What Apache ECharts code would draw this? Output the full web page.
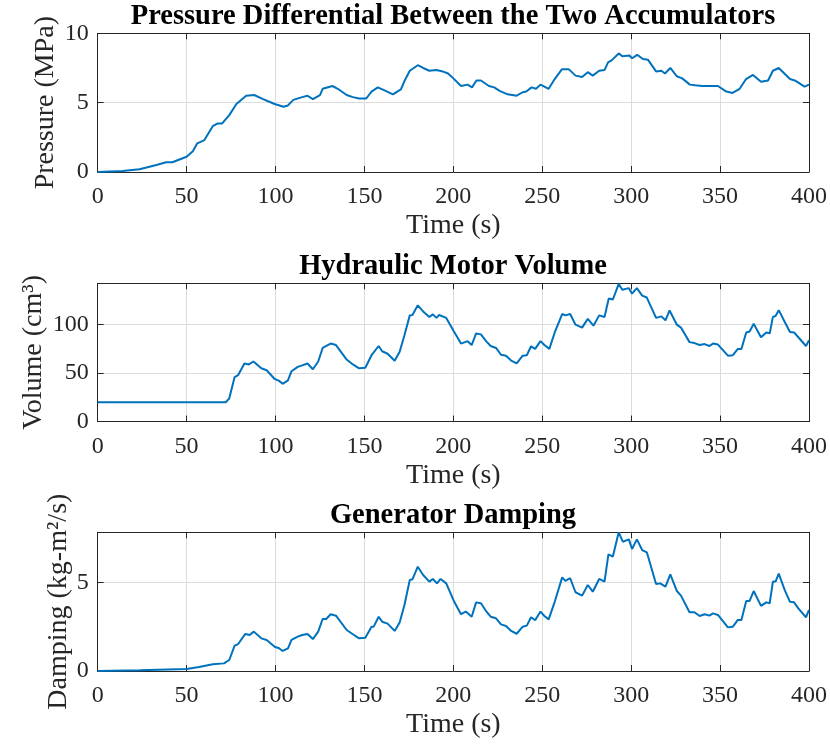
<!DOCTYPE html>
<html><head><meta charset="utf-8">
<script src="https://cdn.jsdelivr.net/npm/echarts@6/dist/echarts.min.js"></script>
<style>html,body{margin:0;padding:0;background:#fff}#c{width:830px;height:745px}</style>
</head><body><div id="c"></div>
<script>
var titles = ['Pressure Differential Between the Two Accumulators', 'Hydraulic Motor Volume', 'Generator Damping'];
var yNames = ['Pressure (MPa)', 'Volume (cm\u00B3)', 'Damping (kg-m\u00B2/s)'];
var xName = 'Time (s)';
var xTicks = [0, 50, 100, 150, 200, 250, 300, 350, 400];

var tPressure = [0,14,23.5,33,38.5,42,46,50,53.5,56,60,64.7,67.5,70,74,78,83.5,88,93,99.5,104.5,107,110,115,118,121,125,126.5,132,135,140,143.5,147,151,154,157.5,161,166,170.5,172.5,175.5,180,183,186.5,190.5,194,197,200,204.3,208,210.5,213,215.5,220,223,226,230.5,235.6,239,241,244,246.5,249,253.6,257,258,261,265,268.7,272.4,275.6,278.4,282,285,287,289,293,295,299,300.5,303.4,306.6,309.4,314,317,319,322,325.7,328.7,333,336,340,344,348.8,353.5,357,361,364.6,368.5,373,377,379.7,383,389.3,392,397.5,400];
var pressure = [0,0.07,0.2,0.5,0.7,0.7,0.9,1.1,1.5,2.07,2.3,3.3,3.5,3.5,4.1,4.9,5.5,5.55,5.26,4.9,4.7,4.8,5.2,5.4,5.5,5.25,5.55,6.0,6.2,6.0,5.55,5.4,5.3,5.3,5.8,6.1,5.9,5.6,5.95,6.56,7.3,7.7,7.5,7.3,7.35,7.25,7.1,6.75,6.2,6.3,6.1,6.6,6.6,6.2,6.1,5.85,5.6,5.5,5.75,5.8,6.1,6.0,6.3,6.0,6.7,6.75,7.4,7.4,6.95,6.85,7.2,6.95,7.3,7.35,7.9,8.05,8.55,8.35,8.4,8.2,8.45,8.15,8.1,7.25,7.3,7.1,7.5,6.9,6.75,6.3,6.25,6.2,6.2,6.2,5.8,5.7,6.0,6.7,7.0,6.5,6.6,7.3,7.5,6.7,6.6,6.15,6.3];

var tVolume = [0,72,74,77,79,82.5,85,87.6,92,95,99.5,102,104,107,109,112.5,115,118,121,124,126.5,131,134,140,143.5,147,150.5,154,158,160,163,167,169.8,172.5,175.5,177,180,183,186.5,188.5,190.5,192,196,200.5,204.3,208,210.3,212.8,215.5,218.4,221,224,226.8,229.6,232.5,235.6,239,241.3,243.7,246,249,251.2,254,257,258,261.2,263,265.7,268.7,272.4,275.6,278.8,282,285,287.4,289.7,293,295,298.7,300.5,303.2,306.2,308.8,314,317,319.3,321.6,325.7,328,332.8,335.6,338.5,341.3,344,346,348.8,354.4,357.2,360,362,364.7,366.6,368.9,373,376,377.9,379.7,381.2,383,386.3,389.3,391.6,394,398.3,400];
var volume = [20,20,24,46,48,60,59,62,55,53,44,42,39,42.5,52,56.5,58,60,54,62,76,80.5,79,64,59,55,55.5,68.5,78,72.6,70,62.7,72,89,109.6,110,120,113.7,108,110.6,107,110,107,92.5,80.5,83,79,91,90,83,78,76,69,68,63,60,68,68.5,77.7,75,83,79,75,92,92.5,111,109.6,111,100,97,106,99,109.6,108,127,126,142,136,137.7,132,137.7,130,128,107,108.6,104.5,114.7,100,97,82,81,79,80,78,80.5,79.5,68,68.5,75,75,92,93,101,87,92,91,108,109,115,103,92.5,92,87,78,84];

var tDamping = [0,23.5,50,57,64.7,71,74,77,79,83,85.4,87.8,92,95,99.5,102,104,107,109,112.5,115,118,121,124,126.5,128.5,131,134,140,143.5,147,150.5,154,155.2,158,160,163,167,169.8,172.5,175.5,177,180,183,186.5,188.5,190.8,192.8,196,200.5,204.3,207,210.3,212.8,215.5,218.4,221,224,226.8,229.6,232.5,235.6,239,241.3,243.7,246,249,251.2,253.6,257,258,261.2,263,265.7,268.7,272.4,275.6,278.4,282,285,287.2,289.7,293,295.3,298.7,300.5,303.2,306.2,308.8,314,316.3,319.3,322,325.7,328,332.8,335.6,338.5,341.3,344,346,348.8,354.4,357.2,360,362,364.7,366.6,368.9,373,376,377.9,379.7,381.2,383,386.3,389.3,391.6,394,398.3,400];
var damping = [0,0.04,0.11,0.22,0.38,0.43,0.62,1.43,1.52,2.09,2.03,2.22,1.84,1.75,1.37,1.28,1.13,1.28,1.75,1.94,2.03,2.09,1.8,2.22,2.93,2.93,3.2,3.12,2.31,2.07,1.84,1.88,2.5,2.5,3.06,2.78,2.67,2.26,2.73,3.72,5.13,5.17,5.88,5.41,5.04,5.19,4.94,5.19,4.94,3.9,3.2,3.35,3.06,3.87,3.82,3.38,3.06,2.97,2.63,2.54,2.26,2.1,2.5,2.56,3.03,2.86,3.35,3.1,2.91,3.9,3.95,5.28,5.08,5.23,4.44,4.25,4.85,4.47,5.19,5.04,6.58,6.45,7.82,7.29,7.42,6.88,7.42,6.82,6.69,4.9,4.94,4.76,5.45,4.51,4.25,3.31,3.31,3.1,3.2,3.12,3.25,3.16,2.46,2.5,2.88,2.88,3.95,3.95,4.51,3.67,3.87,3.82,5.04,5.04,5.49,4.57,3.9,3.87,3.53,3.03,3.44];

var yMax = [10, 142.7, 7.82];
var yInterval = [5, 50, 5];

var FONT = 'Liberation Serif, Times New Roman, serif';
var AX = '#262626';
var GRIDC = '#dcdcdc';

function pairs(t, v){ var o=[]; for (var i=0;i<t.length;i++) o.push([t[i], v[i]]); return o; }
var seriesData = [pairs(tPressure, pressure), pairs(tVolume, volume), pairs(tDamping, damping)];

var tops = [33.3, 283.3, 532.3];
var heights = [138.7, 138.3, 138.7];
var titleY = [2, 252, 501];
var yNameGap = [38, 50, 25];

var grids=[], xAxes=[], yAxes=[], series=[], titleArr=[];
for (var k=0;k<3;k++){
  grids.push({left:97.7, top:tops[k], width:711.3, height:heights[k], outerBoundsMode:'none', containLabel:false});
  titleArr.push({text:titles[k], left:453, textAlign:'center', top:titleY[k], padding:0,
    textStyle:{fontFamily:FONT, fontWeight:'bold', fontSize:28.5, color:'#000'}});
  xAxes.push({type:'value', gridIndex:k, position:'bottom', min:0, max:400, interval:50,
    name:xName, nameLocation:'middle', nameGap:40, nameMoveOverlap:false,
    nameTextStyle:{fontFamily:FONT, fontSize:28, color:'#262626'},
    axisLine:{show:true, onZero:false, lineStyle:{color:AX, width:1}},
    axisTick:{show:true, inside:true, length:6, lineStyle:{color:AX}},
    axisLabel:{fontFamily:FONT, fontSize:24, color:'#262626', margin:13, showMinLabel:true, showMaxLabel:true, hideOverlap:false},
    splitLine:{show:true, lineStyle:{color:GRIDC, width:1}}});
  xAxes.push({type:'value', gridIndex:k, position:'top', min:0, max:400, interval:50,
    axisLine:{show:true, onZero:false, lineStyle:{color:AX, width:1}},
    axisTick:{show:true, inside:true, length:6, lineStyle:{color:AX}},
    axisLabel:{show:false}, splitLine:{show:false}});
  (function(kk){
  yAxes.push({type:'value', gridIndex:kk, position:'left', min:0, max:yMax[kk], interval:yInterval[kk],
    name:yNames[kk], nameLocation:'middle', nameGap:yNameGap[kk], nameMoveOverlap:false,
    nameTextStyle:{fontFamily:FONT, fontSize:28, color:'#262626'},
    axisLine:{show:true, onZero:false, lineStyle:{color:AX, width:1}},
    axisTick:{show:true, inside:true, length:6, lineStyle:{color:AX}},
    axisLabel:{fontFamily:FONT, fontSize:24, color:'#262626', margin:9, showMinLabel:true, hideOverlap:false,
      formatter:function(v){ return (Math.abs(v % yInterval[kk])<1e-9) ? String(v) : ''; }},
    splitLine:{show:true, lineStyle:{color:GRIDC, width:1}}});
  })(k);
  yAxes.push({type:'value', gridIndex:k, position:'right', min:0, max:yMax[k], interval:yInterval[k],
    axisLine:{show:true, onZero:false, lineStyle:{color:AX, width:1}},
    axisTick:{show:true, inside:true, length:6, lineStyle:{color:AX}},
    axisLabel:{show:false}, splitLine:{show:false}});
  series.push({type:'line', xAxisIndex:2*k, yAxisIndex:2*k, data:seriesData[k], showSymbol:false, symbol:'none',
    lineStyle:{color:'#0072BD', width:2}, itemStyle:{color:'#0072BD'}, clip:true, animation:false, smooth:false});
}

var chart = echarts.init(document.getElementById('c'), null, {renderer:'canvas'});
chart.setOption({animation:false, backgroundColor:'#fff', title:titleArr, grid:grids, xAxis:xAxes, yAxis:yAxes, series:series});
</script></body></html>
